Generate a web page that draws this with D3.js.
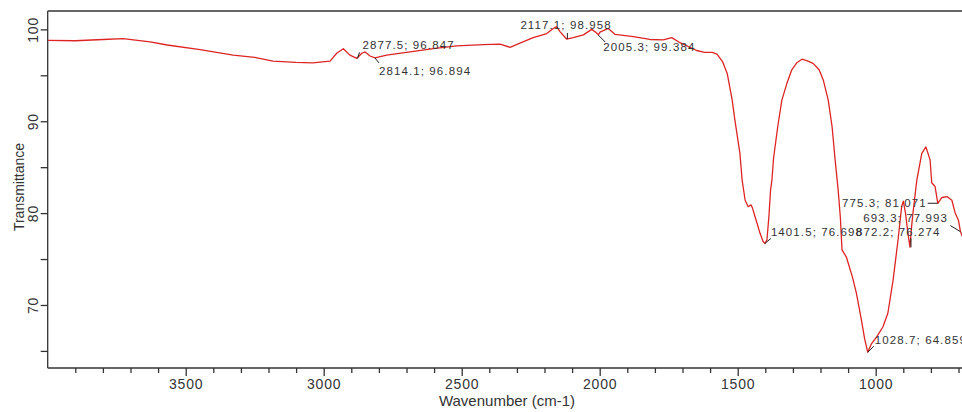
<!DOCTYPE html>
<html>
<head>
<meta charset="utf-8">
<script src="https://cdn.jsdelivr.net/npm/d3@7/dist/d3.min.js"></script>
<style>
  html, body { margin: 0; padding: 0; background: #fff; }
  svg { display: block; font-family: "Liberation Sans", Arial, sans-serif; }
  .axis path, .axis line { stroke: #333; stroke-width: 1.3; }
  .axis text { fill: #333; font-size: 14px; letter-spacing: 0.8px; }
  .peak-label { fill: #333; font-size: 11.5px; letter-spacing: 1.1px; }
  .leader { stroke: #222; stroke-width: 1; }
</style>
</head>
<body>
<div id="plot"></div>
<script>
// spectrum (cm-1, %T)
var wavenumber = [4000, 3900, 3800, 3727, 3629, 3567, 3448, 3328, 3250, 3184, 3100, 3040, 2977,
  2953, 2929, 2905, 2880, 2862, 2850, 2832, 2814, 2772, 2687, 2603, 2518, 2422, 2361, 2325,
  2289, 2241, 2192, 2168, 2156, 2144, 2120, 2096, 2059, 2029, 2011, 2005, 1999, 1969, 1944,
  1878, 1818, 1770, 1739, 1709, 1649, 1620, 1592, 1575, 1555, 1538, 1520, 1510, 1492, 1484,
  1473, 1462, 1452, 1447, 1437, 1419, 1408, 1401, 1394, 1387, 1381, 1376, 1370, 1355, 1340,
  1322, 1304, 1285, 1267, 1250, 1227, 1205, 1190, 1172, 1158, 1147, 1136, 1128, 1122, 1106,
  1084, 1070, 1052, 1040, 1029, 1015, 997, 974, 956, 937, 919, 906, 900, 892, 884, 876, 870,
  865, 851, 833, 818, 803, 797, 785, 775, 760, 742, 724, 713, 706, 700, 693, 680];
var transmittance = [98.8, 98.76, 98.9, 99.0, 98.65, 98.3, 97.8, 97.2, 96.95, 96.55, 96.4, 96.35, 96.55,
  97.4, 97.9, 97.2, 96.85, 97.4, 97.55, 97.1, 96.9, 97.2, 97.55, 97.9, 98.2, 98.35, 98.4, 98.05,
  98.5, 99.1, 99.55, 100.1, 100.3, 99.75, 98.95, 99.1, 99.4, 100.0, 99.6, 99.4, 99.7, 100.1, 99.45,
  99.2, 98.9, 98.85, 99.1, 98.55, 97.7, 97.5, 97.5, 97.3, 96.5, 95.2, 92.3, 90.1, 86.5, 83.6,
  81.4, 80.7, 80.9, 80.6, 79.6, 77.8, 76.9, 76.7, 77.1, 79.6, 82.5, 83.6, 86.0, 89.4, 92.3,
  94.1, 95.6, 96.4, 96.75, 96.6, 96.3, 95.6, 94.5, 92.3, 89.4, 85.8, 82.5, 79.5, 76.0, 75.2,
  73.0, 71.3, 68.4, 66.3, 64.86, 65.8, 66.5, 67.6, 69.1, 72.7, 77.1, 80.7, 81.3, 80.0, 78.0, 76.3, 78.5,
  80.0, 83.6, 86.5, 87.2, 85.8, 83.3, 82.9, 81.07, 81.7, 81.8, 81.4, 80.1, 79.6, 79.2, 78.0, 77.0];

// peak picks: wavenumber, %T
var peakWn = [2877.5, 2814.1, 2117.1, 2005.3, 1401.5, 1028.7, 775.3, 693.3, 872.2];
var peakT = [96.847, 96.894, 98.958, 99.384, 76.698, 64.859, 81.071, 77.993, 76.274];

var xMajor = [3500, 3000, 2500, 2000, 1500, 1000];
var yMajor = [70, 80, 90, 100];

// label placement (layout only): label anchor offset from peak, leader end offset
var labelLayout = [
  { dx: 5, dy: -9, anchor: "start", lx: 2, ly: -6 },
  { dx: 4, dy: 17, anchor: "start", lx: 4, ly: 5 },
  { dx: -47, dy: -10, anchor: "start", lx: 0, ly: -6 },
  { dx: 5, dy: 16, anchor: "start", lx: 7, ly: 7 },
  { dx: 6, dy: -7, anchor: "start", lx: 6, ly: -5 },
  { dx: 7, dy: -8, anchor: "start", lx: 6, ly: -6 },
  { dx: -11, dy: 4, anchor: "end", lx: -10, ly: 0 },
  { dx: -97, dy: -10, anchor: "start", lx: -10, ly: -6 },
  { dx: -55, dy: -11, anchor: "start", lx: 0, ly: -9 }
];

var W = 962, H = 412;
var plotLeft = 47.7, plotTop = 11, plotBottom = 368;

var x = d3.scaleLinear().domain([4000, 650]).range([plotLeft, 972.3]);
var y = d3.scaleLinear().domain([63.14, 102]).range([plotBottom, plotTop]);

var svg = d3.select("#plot").append("svg")
  .attr("width", W)
  .attr("height", H);

svg.append("defs").append("clipPath").attr("id", "clip")
  .append("rect").attr("x", plotLeft).attr("y", plotTop)
  .attr("width", W - plotLeft).attr("height", plotBottom - plotTop);

// top frame line
svg.append("line")
  .attr("x1", plotLeft).attr("x2", W).attr("y1", plotTop).attr("y2", plotTop)
  .style("stroke", "#333").style("stroke-width", 1.6);

// x axis, minor + major
svg.append("g").attr("class", "axis")
  .attr("transform", "translate(0," + plotBottom + ")")
  .call(d3.axisBottom(x).tickValues(d3.range(700, 4000, 100).filter(function(v) {
    return xMajor.indexOf(v) < 0;
  })).tickSize(5).tickFormat(""))
  .call(function(g) { g.select(".domain").attr("d", "M" + plotLeft + ",0H" + W); });

svg.append("g").attr("class", "axis")
  .attr("transform", "translate(0," + plotBottom + ")")
  .call(d3.axisBottom(x).tickValues(xMajor).tickSize(8).tickPadding(3).tickFormat(d3.format("d")))
  .call(function(g) { g.select(".domain").remove(); });

// y axis
svg.append("g").attr("class", "axis")
  .attr("transform", "translate(" + plotLeft + ",0)")
  .call(d3.axisLeft(y).tickValues([65, 75, 85, 95]).tickSize(7).tickFormat(""))
  .call(function(g) { g.select(".domain").attr("d", "M0," + plotTop + "V" + plotBottom); });

var yAx = svg.append("g").attr("class", "axis")
  .attr("transform", "translate(" + plotLeft + ",0)")
  .call(d3.axisLeft(y).tickValues(yMajor).tickSize(7).tickFormat(d3.format("d")))
  .call(function(g) { g.select(".domain").remove(); });

yAx.selectAll(".tick text")
  .attr("x", null).attr("dy", null)
  .attr("text-anchor", "middle")
  .attr("transform", "translate(-10,0) rotate(-90)");

// axis titles
svg.append("text")
  .attr("x", 507).attr("y", 406)
  .attr("text-anchor", "middle")
  .style("font-size", "15px").style("fill", "#333")
  .text("Wavenumber (cm-1)");

svg.append("text")
  .attr("transform", "translate(24,187) rotate(-90)")
  .attr("text-anchor", "middle")
  .style("font-size", "14px").style("fill", "#333")
  .text("Transmittance");

// spectrum
var pts = wavenumber.map(function(w, i) { return [w, transmittance[i]]; });

var line = d3.line()
  .x(function(d) { return x(d[0]); })
  .y(function(d) { return y(d[1]); });

svg.append("path")
  .datum(pts)
  .attr("clip-path", "url(#clip)")
  .attr("d", line)
  .style("fill", "none")
  .style("stroke", "#dd2424")
  .style("stroke-width", 1.3)
  .style("stroke-linejoin", "round");

// peak labels
var peaks = svg.append("g").attr("clip-path", "url(#clip)");
peakWn.forEach(function(w, i) {
  var px = x(w), py = y(peakT[i]), L = labelLayout[i];
  peaks.append("line").attr("class", "leader")
    .attr("x1", px).attr("y1", py)
    .attr("x2", px + L.lx).attr("y2", py + L.ly);
  peaks.append("text").attr("class", "peak-label")
    .attr("x", px + L.dx).attr("y", py + L.dy)
    .attr("text-anchor", L.anchor)
    .text(w.toFixed(1) + "; " + peakT[i].toFixed(3));
});
</script>
</body>
</html>
